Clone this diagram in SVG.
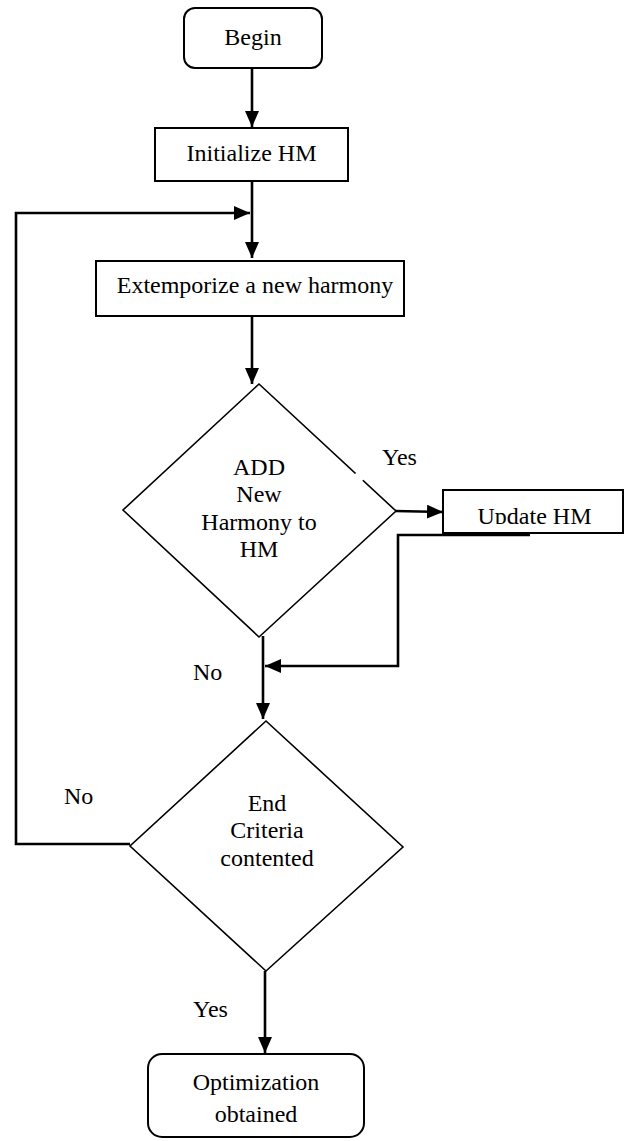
<svg xmlns="http://www.w3.org/2000/svg" width="630" height="1141" viewBox="0 0 630 1141">
<style>
text{font-family:'Liberation Serif','Times New Roman',serif;font-size:24px;fill:#000;text-anchor:middle}
.box{fill:#fff;stroke:#000;stroke-width:2}
.dia{fill:#fff;stroke:#000;stroke-width:1.6}
.con{fill:none;stroke:#000;stroke-width:2.6}
.lbl{text-anchor:start}
</style>
<defs>
<marker id="ah" markerUnits="userSpaceOnUse" markerWidth="16" markerHeight="14" refX="16" refY="7" orient="auto">
<path d="M0,0 L16,7 L0,14 z" fill="#000"/>
</marker>
<clipPath id="clipU"><rect x="443" y="490" width="180" height="34"/></clipPath>
</defs>
<rect width="630" height="1141" fill="#fff"/>
<g id="connectors">
<line class="con" x1="252" y1="68" x2="252" y2="127" marker-end="url(#ah)"/>
<line class="con" x1="252" y1="181" x2="252" y2="258" marker-end="url(#ah)"/>
<polyline class="con" points="130,844 16,844 16,213 250,213" marker-end="url(#ah)"/>
<line class="con" x1="252" y1="316" x2="252" y2="384" marker-end="url(#ah)"/>
<line class="con" x1="395" y1="511" x2="443" y2="512" marker-end="url(#ah)"/>
<polyline class="con" points="530,535 398,535 398,666 265,666" marker-end="url(#ah)"/>
<line class="con" x1="263" y1="636" x2="263" y2="719" marker-end="url(#ah)"/>
<line class="con" x1="265" y1="971" x2="265" y2="1053" marker-end="url(#ah)"/>
</g>
<g id="begin">
<rect class="box" x="184" y="8" width="138" height="60" rx="11"/>
<text x="253" y="45">Begin</text>
</g>
<g id="init">
<rect class="box" x="155" y="128" width="193" height="53"/>
<text x="251.5" y="161">Initialize HM</text>
</g>
<g id="extemporize">
<rect class="box" x="96" y="261" width="308" height="55"/>
<text x="255" y="293">Extemporize a new harmony</text>
</g>
<g id="add">
<polygon class="dia" points="259,384 396,511 259,637 123,510"/>
<rect x="355" y="471" width="10" height="10" fill="#fff" transform="rotate(43 360 476)"/>
<text x="259" y="475">ADD</text>
<text x="259" y="502">New</text>
<text x="259" y="530">Harmony to</text>
<text x="259" y="557">HM</text>
</g>
<g id="update">
<rect class="box" x="443" y="490" width="180" height="43"/>
<text x="534.5" y="524" clip-path="url(#clipU)">Update HM</text>
</g>
<g id="end">
<polygon class="dia" points="266,721 403,847 266,971 130,846"/>
<text x="267" y="811">End</text>
<text x="267" y="838">Criteria</text>
<text x="267" y="866">contented</text>
</g>
<g id="optim">
<rect class="box" x="148" y="1054" width="216" height="83" rx="14"/>
<text x="256" y="1090">Optimization</text>
<text x="256" y="1122">obtained</text>
</g>
<g id="labels">
<text class="lbl" x="382" y="465">Yes</text>
<text class="lbl" x="193" y="680">No</text>
<text class="lbl" x="64" y="804">No</text>
<text class="lbl" x="193" y="1017">Yes</text>
</g>
</svg>
